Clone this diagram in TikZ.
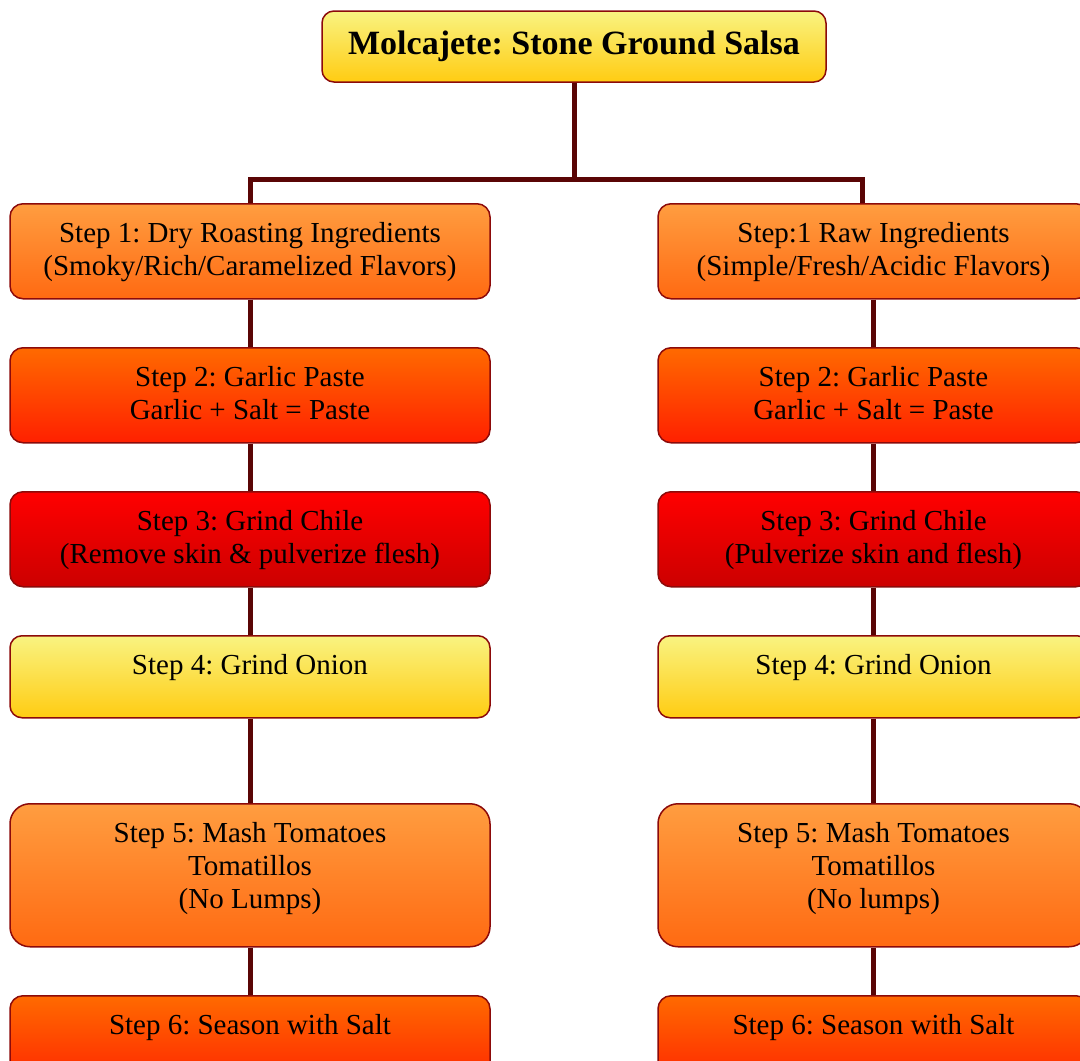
\documentclass[tikz,border=0pt]{standalone}
\usepackage{fontspec}
\setmainfont{Liberation Serif}
\usetikzlibrary{backgrounds}
\frenchspacing
\definecolor{edgecol}{HTML}{8C0A0A}
\definecolor{conncol}{HTML}{5A0505}
\definecolor{orT}{HTML}{FF9D40}
\definecolor{orB}{HTML}{FF6A12}
\definecolor{rdoT}{HTML}{FF6A00}
\definecolor{rdoB}{HTML}{FF2000}
\definecolor{rdT}{HTML}{FF0000}
\definecolor{rdB}{HTML}{CC0000}
\definecolor{yeT}{HTML}{F9F381}
\definecolor{yeB}{HTML}{FFCC12}
\tikzset{
  stepbox/.style={draw=edgecol, line width=1.5pt, inner sep=0pt, anchor=north,
    font=\fontsize{29}{33}\selectfont},
  titlebox/.style={draw=edgecol, line width=1.5pt, inner sep=0pt, rounded corners=12pt,
    minimum width=504pt, minimum height=71pt, top color=yeT, bottom color=yeB,
    font=\fontsize{34}{40}\selectfont\bfseries},
  fillor/.style={top color=orT, bottom color=orB},
  fillrdo/.style={top color=rdoT, bottom color=rdoB},
  fillrd/.style={top color=rdT, bottom color=rdB},
  fillye/.style={top color=yeT, bottom color=yeB},
  conn/.style={draw=conncol, line width=5pt},
}
\newcommand\boxtxt[3]{\parbox[c][#2][t]{#1}{\centering\vspace*{16pt}\strut #3}}
\begin{document}
\begin{tikzpicture}[x=1pt,y=-1pt]
\useasboundingbox (0,0) rectangle (1080,1061);
\node[titlebox] (T) at (574,46.5) {Molcajete: Stone Ground Salsa};
% left column
\node[stepbox, fillor, rounded corners=13pt] (L1) at (250,203) {\boxtxt{480pt}{95pt}{Step 1: Dry Roasting Ingredients\\(Smoky/Rich/Caramelized Flavors)}};
\node[stepbox, fillrdo, rounded corners=13pt] (L2) at (250,347) {\boxtxt{480pt}{95pt}{Step 2: Garlic Paste\\Garlic + Salt = Paste}};
\node[stepbox, fillrd, rounded corners=13pt] (L3) at (250,491) {\boxtxt{480pt}{95pt}{Step 3: Grind Chile\\(Remove skin \& pulverize flesh)}};
\node[stepbox, fillye, rounded corners=12pt] (L4) at (250,635) {\boxtxt{480pt}{82pt}{Step 4: Grind Onion}};
\node[stepbox, fillor, rounded corners=20pt] (L5) at (250,803) {\boxtxt{480pt}{143pt}{Step 5: Mash Tomatoes\\Tomatillos\\(No Lumps)}};
\node[stepbox, fillrdo, rounded corners=13pt] (L6) at (250,995) {\boxtxt{480pt}{95pt}{Step 6: Season with Salt}};
% right column
\node[stepbox, fillor, rounded corners=13pt] (R1) at (873.5,203) {\boxtxt{431pt}{95pt}{Step:1 Raw Ingredients\\(Simple/Fresh/Acidic Flavors)}};
\node[stepbox, fillrdo, rounded corners=13pt] (R2) at (873.5,347) {\boxtxt{431pt}{95pt}{Step 2: Garlic Paste\\Garlic + Salt = Paste}};
\node[stepbox, fillrd, rounded corners=13pt] (R3) at (873.5,491) {\boxtxt{431pt}{95pt}{Step 3: Grind Chile\\(Pulverize skin and flesh)}};
\node[stepbox, fillye, rounded corners=12pt] (R4) at (873.5,635) {\boxtxt{431pt}{82pt}{Step 4: Grind Onion}};
\node[stepbox, fillor, rounded corners=20pt] (R5) at (873.5,803) {\boxtxt{431pt}{143pt}{Step 5: Mash Tomatoes\\Tomatillos\\(No lumps)}};
\node[stepbox, fillrdo, rounded corners=13pt] (R6) at (873.5,995) {\boxtxt{431pt}{95pt}{Step 6: Season with Salt}};
\coordinate (J) at (574,179);
\coordinate (RJ) at (862,203);
\begin{pgfonlayer}{background}
\draw[conn] (T.south) -- (J);
\draw[conn] (L1.north) |- (J) -| (RJ);
\foreach \a/\b in {1/2,2/3,3/4,4/5,5/6}{
  \draw[conn] (L\a.south) -- (L\b.north);
  \draw[conn] (R\a.south) -- (R\b.north);
}
\end{pgfonlayer}
\end{tikzpicture}
\end{document}
